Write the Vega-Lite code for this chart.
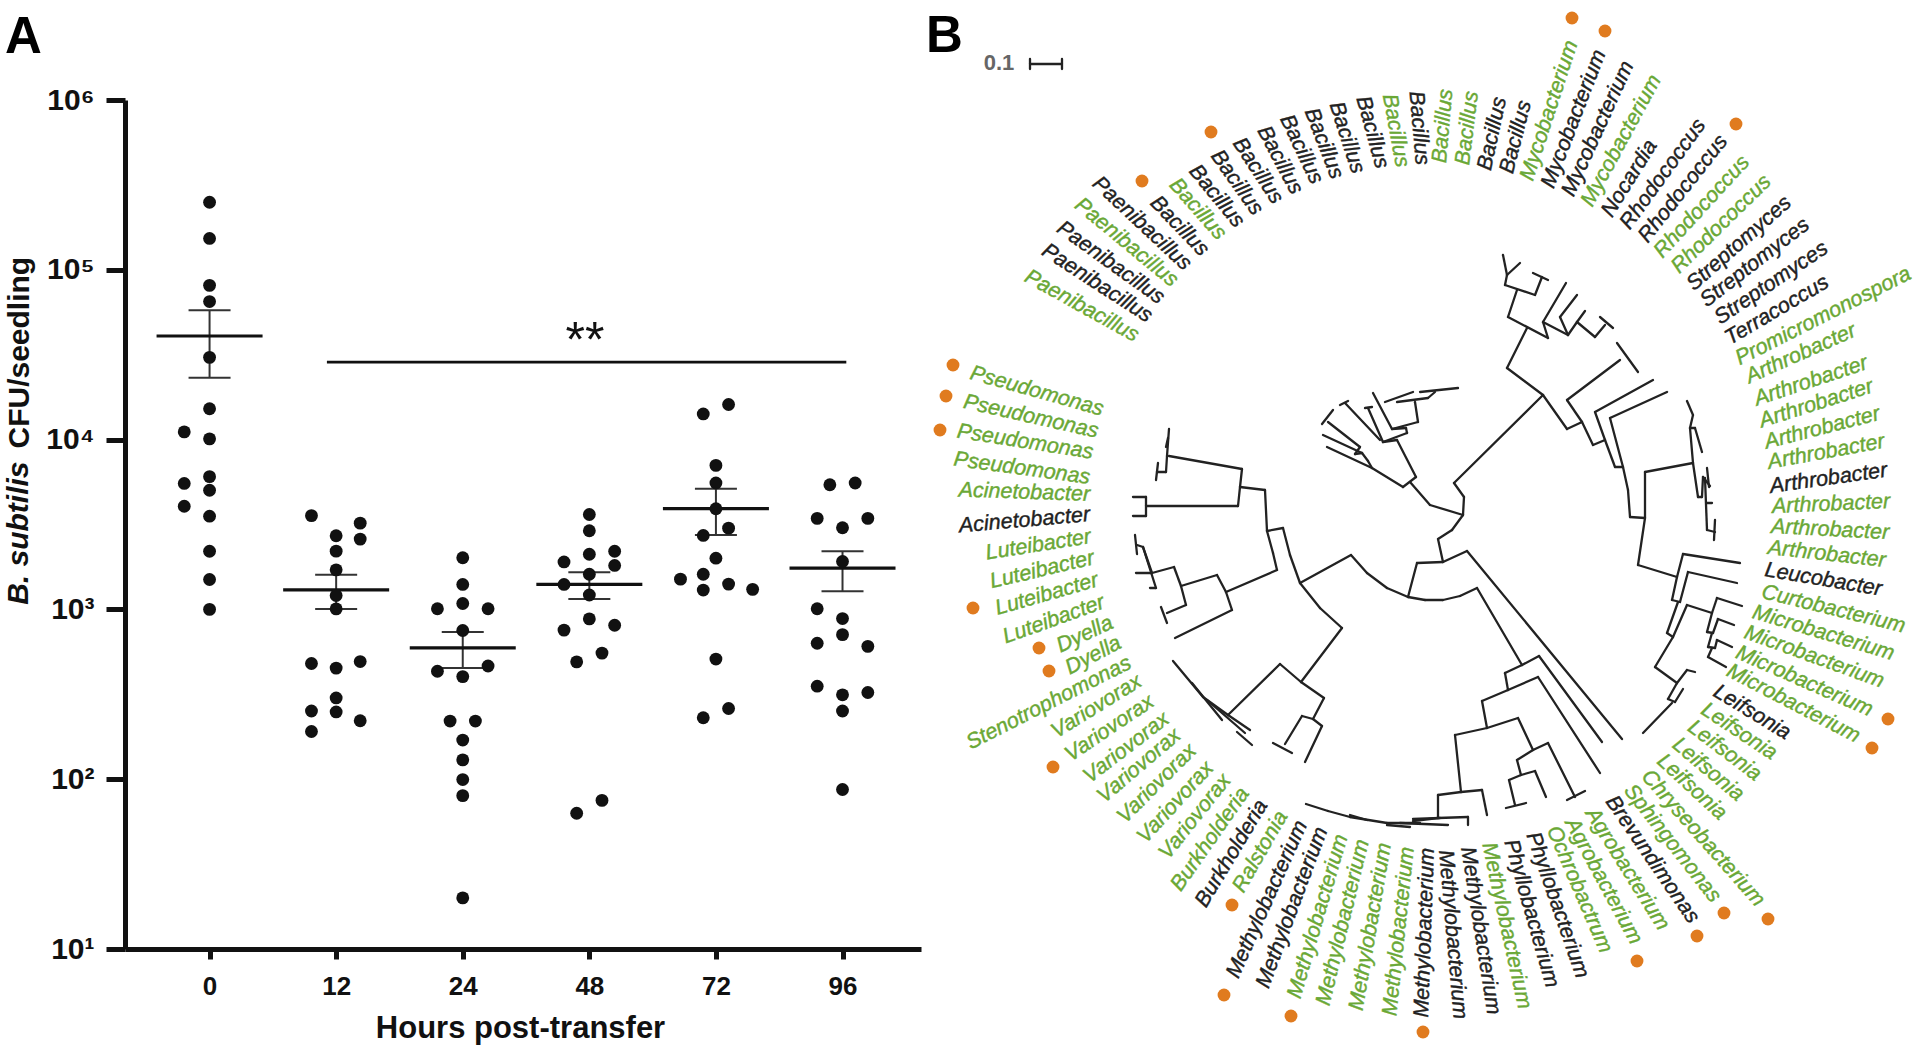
{"$schema":"https://vega.github.io/schema/vega-lite/v6.json","width":1920,"height":1051,"padding":0,"autosize":{"type":"none"},"background":"white","config":{"view":{"stroke":null},"font":"Liberation Sans"},
"datasets":{
"points":[{"pos":0,"cfu":250000},{"pos":0,"cfu":153000},{"pos":0,"cfu":81000},{"pos":0,"cfu":65000},{"pos":0,"cfu":30500},{"pos":0,"cfu":15200},{"pos":0,"cfu":10100},{"pos":-0.2,"cfu":11100},{"pos":0,"cfu":6050},{"pos":-0.2,"cfu":5520},{"pos":0,"cfu":5030},{"pos":-0.2,"cfu":4050},{"pos":0,"cfu":3540},{"pos":0,"cfu":2200},{"pos":0,"cfu":1500},{"pos":0,"cfu":1000},
{"pos":0.805,"cfu":3565},{"pos":1.19,"cfu":3220},{"pos":1.19,"cfu":2594},{"pos":1,"cfu":2716},{"pos":1,"cfu":2203},{"pos":1,"cfu":1710},{"pos":1,"cfu":1208},{"pos":1,"cfu":1007},{"pos":1.19,"cfu":493},{"pos":0.805,"cfu":480},{"pos":1,"cfu":451},{"pos":1,"cfu":301},{"pos":0.805,"cfu":252},{"pos":1,"cfu":249},{"pos":1.19,"cfu":221},{"pos":0.805,"cfu":191},
{"pos":2,"cfu":2015},{"pos":2,"cfu":1403},{"pos":2,"cfu":1084},{"pos":1.8,"cfu":1009},{"pos":2.2,"cfu":1009},{"pos":2,"cfu":751},{"pos":1.8,"cfu":432},{"pos":2.2,"cfu":464},{"pos":2,"cfu":402},{"pos":1.9,"cfu":220},{"pos":2.1,"cfu":220},{"pos":2,"cfu":170},{"pos":2,"cfu":130},{"pos":2,"cfu":99.5},{"pos":2,"cfu":80},{"pos":2,"cfu":20},
{"pos":3,"cfu":3620},{"pos":3,"cfu":2906},{"pos":3.2,"cfu":2200},{"pos":3,"cfu":2113},{"pos":2.8,"cfu":1903},{"pos":3.2,"cfu":1815},{"pos":3,"cfu":1611},{"pos":2.8,"cfu":1403},{"pos":3,"cfu":1216},{"pos":3,"cfu":879},{"pos":3.2,"cfu":807},{"pos":2.8,"cfu":755},{"pos":3.1,"cfu":553},{"pos":2.9,"cfu":491},{"pos":3.1,"cfu":75},{"pos":2.9,"cfu":63},
{"pos":4.1,"cfu":16100},{"pos":3.9,"cfu":14160},{"pos":4,"cfu":7050},{"pos":4,"cfu":5550},{"pos":4,"cfu":3917},{"pos":4.1,"cfu":3010},{"pos":3.9,"cfu":2727},{"pos":4,"cfu":2003},{"pos":3.9,"cfu":1611},{"pos":3.72,"cfu":1507},{"pos":4.1,"cfu":1409},{"pos":3.9,"cfu":1300},{"pos":4.29,"cfu":1312},{"pos":4,"cfu":510},{"pos":4.1,"cfu":261},{"pos":3.9,"cfu":230},
{"pos":4.9,"cfu":5420},{"pos":5.1,"cfu":5550},{"pos":4.8,"cfu":3436},{"pos":5.2,"cfu":3436},{"pos":5,"cfu":3027},{"pos":5,"cfu":1914},{"pos":4.8,"cfu":1009},{"pos":5,"cfu":883},{"pos":5,"cfu":710},{"pos":4.8,"cfu":632},{"pos":5.2,"cfu":606},{"pos":4.8,"cfu":353},{"pos":5.2,"cfu":324},{"pos":5,"cfu":314},{"pos":5,"cfu":252},{"pos":5,"cfu":87}],
"means":[{"pos":0,"cfu":40740},{"pos":1,"cfu":1303},{"pos":2,"cfu":594},{"pos":3,"cfu":1403},{"pos":4,"cfu":3917},{"pos":5,"cfu":1750}],
"errors":[{"pos":0,"cfu":57700,"cfu2":23170},{"pos":1,"cfu":1600,"cfu2":1007},{"pos":2,"cfu":736,"cfu2":451},{"pos":3,"cfu":1655,"cfu2":1153},{"pos":4,"cfu":5140,"cfu2":2742},{"pos":5,"cfu":2203,"cfu2":1279}],
"caps":[{"pos":0,"cfu":57700},{"pos":0,"cfu":23170},{"pos":1,"cfu":1600},{"pos":1,"cfu":1007},{"pos":2,"cfu":736},{"pos":2,"cfu":451},{"pos":3,"cfu":1655},{"pos":3,"cfu":1153},{"pos":4,"cfu":5140},{"pos":4,"cfu":2742},{"pos":5,"cfu":2203},{"pos":5,"cfu":1279}],
"tree":[{"tx":-47,"ty":-13,"tx2":-34,"ty2":-23},{"tx":-34,"ty":-23,"tx2":-53,"ty2":-60},{"tx":-53,"ty":-60,"tx2":-67,"ty2":-58},{"tx":-67,"ty":-58,"tx2":-43,"ty2":-67},{"tx":-43,"ty":-67,"tx2":-44,"ty2":-72},{"tx":-44,"ty":-72,"tx2":-58,"ty2":-71},{"tx":-58,"ty":-71,"tx2":-32,"ty2":-78},{"tx":-58,"ty":-71,"tx2":-77,"ty2":-107},{"tx":-32,"ty":-78,"tx2":-35,"ty2":-98},{"tx":-65,"ty":-98,"tx2":-37,"ty2":-108},{"tx":-53,"ty":-98,"tx2":-22,"ty2":-102},{"tx":-30,"ty":-108,"tx2":8,"ty2":-112},{"tx":-22,"ty":-102,"tx2":-15,"ty2":-108},{"tx":-67,"ty":-58,"tx2":-82,"ty2":-92},{"tx":-85,"ty":-92,"tx2":-78,"ty2":-93},{"tx":-70,"ty":-60,"tx2":-105,"ty2":-97},{"tx":-110,"ty":-95,"tx2":-102,"ty2":-99},{"tx":-47,"ty":-13,"tx2":-78,"ty2":-32},{"tx":-78,"ty":-32,"tx2":-123,"ty2":-53},{"tx":-78,"ty":-32,"tx2":-82,"ty2":-39},{"tx":-82,"ty":-39,"tx2":-88,"ty2":-47},{"tx":-88,"ty":-47,"tx2":-127,"ty2":-65},{"tx":-95,"ty":-46,"tx2":-88,"ty2":-47},{"tx":-95,"ty":-46,"tx2":-90,"ty2":-53},{"tx":-90,"ty":-53,"tx2":-122,"ty2":-78},{"tx":-128,"ty":-76,"tx2":-117,"ty2":-90},
{"tx":53,"ty":-245,"tx2":57,"ty2":-225},{"tx":57,"ty":-225,"tx2":70,"ty2":-237},{"tx":57,"ty":-225,"tx2":55,"ty2":-215},{"tx":55,"ty":-215,"tx2":85,"ty2":-205},{"tx":85,"ty":-205,"tx2":92,"ty2":-223},{"tx":83,"ty":-227,"tx2":98,"ty2":-220},{"tx":67,"ty":-210,"tx2":58,"ty2":-183},{"tx":58,"ty":-183,"tx2":98,"ty2":-162},{"tx":93,"ty":-178,"tx2":116,"ty2":-217},{"tx":93,"ty":-178,"tx2":98,"ty2":-162},{"tx":93,"ty":-178,"tx2":118,"ty2":-165},{"tx":118,"ty":-165,"tx2":110,"ty2":-183},{"tx":110,"ty":-183,"tx2":127,"ty2":-205},{"tx":118,"ty":-165,"tx2":127,"ty2":-178},{"tx":127,"ty":-178,"tx2":135,"ty2":-189},{"tx":127,"ty":-178,"tx2":145,"ty2":-163},{"tx":145,"ty":-163,"tx2":155,"ty2":-175},{"tx":150,"ty":-183,"tx2":163,"ty2":-172},{"tx":77,"ty":-172,"tx2":57,"ty2":-132},{"tx":57,"ty":-132,"tx2":93,"ty2":-105},{"tx":4,"ty":-17,"tx2":93,"ty2":-105},{"tx":93,"ty":-105,"tx2":117,"ty2":-71},{"tx":117,"ty":-71,"tx2":132,"ty2":-78},{"tx":132,"ty":-78,"tx2":117,"ty2":-100},{"tx":117,"ty":-100,"tx2":170,"ty2":-140},{"tx":167,"ty":-157,"tx2":188,"ty2":-128},{"tx":132,"ty":-78,"tx2":143,"ty2":-55},{"tx":143,"ty":-55,"tx2":155,"ty2":-60},{"tx":155,"ty":-60,"tx2":145,"ty2":-88},{"tx":145,"ty":-88,"tx2":203,"ty2":-120},{"tx":155,"ty":-60,"tx2":165,"ty2":-33},{"tx":165,"ty":-33,"tx2":173,"ty2":-33},{"tx":173,"ty":-33,"tx2":160,"ty2":-82},{"tx":160,"ty":-82,"tx2":217,"ty2":-108},{"tx":173,"ty":-33,"tx2":178,"ty2":-10},{"tx":178,"ty":-10,"tx2":180,"ty2":17},{"tx":180,"ty":17,"tx2":195,"ty2":18},{"tx":195,"ty":18,"tx2":195,"ty2":-28},{"tx":195,"ty":-28,"tx2":243,"ty2":-37},{"tx":243,"ty":-37,"tx2":240,"ty2":-72},{"tx":240,"ty":-72,"tx2":245,"ty2":-72},{"tx":245,"ty":-72,"tx2":252,"ty2":-48},{"tx":240,"ty":-72,"tx2":243,"ty2":-85},{"tx":243,"ty":-85,"tx2":237,"ty2":-99},{"tx":243,"ty":-37,"tx2":248,"ty2":-3},{"tx":248,"ty":-3,"tx2":252,"ty2":-3},{"tx":252,"ty":-3,"tx2":253,"ty2":-23},{"tx":253,"ty":-23,"tx2":260,"ty2":-14},{"tx":257,"ty":-32,"tx2":259,"ty2":-13},{"tx":255,"ty":-22,"tx2":257,"ty2":30},{"tx":257,"ty":3,"tx2":262,"ty2":3},{"tx":257,"ty":30,"tx2":265,"ty2":32},{"tx":265,"ty":20,"tx2":264,"ty2":40},{"tx":195,"ty":18,"tx2":188,"ty2":65},{"tx":188,"ty":65,"tx2":227,"ty2":77},{"tx":227,"ty":77,"tx2":233,"ty2":54},{"tx":233,"ty":54,"tx2":290,"ty2":63},{"tx":227,"ty":77,"tx2":222,"ty2":100},{"tx":222,"ty":100,"tx2":230,"ty2":102},{"tx":230,"ty":102,"tx2":238,"ty2":72},{"tx":238,"ty":72,"tx2":287,"ty2":83},{"tx":228,"ty":102,"tx2":217,"ty2":133},{"tx":217,"ty":133,"tx2":223,"ty2":137},{"tx":223,"ty":137,"tx2":237,"ty2":105},{"tx":237,"ty":105,"tx2":262,"ty2":113},{"tx":262,"ty":113,"tx2":267,"ty2":98},{"tx":267,"ty":98,"tx2":292,"ty2":106},{"tx":262,"ty":113,"tx2":257,"ty2":132},{"tx":257,"ty":132,"tx2":263,"ty2":133},{"tx":263,"ty":133,"tx2":268,"ty2":119},{"tx":268,"ty":119,"tx2":284,"ty2":125},{"tx":262,"ty":133,"tx2":258,"ty2":147},{"tx":258,"ty":147,"tx2":265,"ty2":148},{"tx":265,"ty":148,"tx2":267,"ty2":140},{"tx":267,"ty":140,"tx2":282,"ty2":147},{"tx":262,"ty":148,"tx2":258,"ty2":157},{"tx":258,"ty":157,"tx2":276,"ty2":167},{"tx":223,"ty":137,"tx2":205,"ty2":167},{"tx":205,"ty":167,"tx2":227,"ty2":183},{"tx":227,"ty":183,"tx2":237,"ty2":170},{"tx":237,"ty":170,"tx2":245,"ty2":172},{"tx":227,"ty":183,"tx2":218,"ty2":199},{"tx":218,"ty":199,"tx2":225,"ty2":202},{"tx":225,"ty":202,"tx2":233,"ty2":189},{"tx":222,"ty":203,"tx2":193,"ty2":233},
{"tx":-7,"ty":62,"tx2":17,"ty2":51},{"tx":17,"ty":51,"tx2":172,"ty2":239},{"tx":27,"ty":88,"tx2":72,"ty2":165},{"tx":-42,"ty":97,"tx2":-25,"ty2":100},{"tx":-25,"ty":100,"tx2":-7,"ty2":100},{"tx":-7,"ty":100,"tx2":10,"ty2":96},{"tx":10,"ty":96,"tx2":27,"ty2":88},{"tx":-7,"ty":62,"tx2":-12,"ty2":39},{"tx":-12,"ty":39,"tx2":2,"ty2":30},{"tx":2,"ty":30,"tx2":13,"ty2":15},{"tx":13,"ty":15,"tx2":14,"ty2":-3},{"tx":14,"ty":-3,"tx2":4,"ty2":-17},{"tx":13,"ty":15,"tx2":-20,"ty2":5},{"tx":-20,"ty":5,"tx2":-40,"ty2":-18},{"tx":-7,"ty":62,"tx2":-33,"ty2":63},{"tx":-33,"ty":63,"tx2":-42,"ty2":97},{"tx":72,"ty":165,"tx2":55,"ty2":173},{"tx":55,"ty":173,"tx2":58,"ty2":190},{"tx":58,"ty":190,"tx2":88,"ty2":177},{"tx":88,"ty":177,"tx2":150,"ty2":273},{"tx":72,"ty":165,"tx2":89,"ty2":156},{"tx":89,"ty":156,"tx2":152,"ty2":242},{"tx":58,"ty":190,"tx2":32,"ty2":201},{"tx":32,"ty":201,"tx2":37,"ty2":228},{"tx":37,"ty":228,"tx2":68,"ty2":218},{"tx":68,"ty":218,"tx2":83,"ty2":250},{"tx":37,"ty":228,"tx2":5,"ty2":235},{"tx":5,"ty":235,"tx2":11,"ty2":292},{"tx":11,"ty":292,"tx2":-12,"ty2":295},{"tx":-12,"ty":295,"tx2":-12,"ty2":318},{"tx":11,"ty":292,"tx2":32,"ty2":290},{"tx":32,"ty":290,"tx2":37,"ty2":315},{"tx":83,"ty":250,"tx2":67,"ty2":260},{"tx":67,"ty":260,"tx2":71,"ty2":275},{"tx":71,"ty":275,"tx2":85,"ty2":271},{"tx":85,"ty":271,"tx2":96,"ty2":297},{"tx":71,"ty":275,"tx2":59,"ty2":280},{"tx":59,"ty":280,"tx2":65,"ty2":305},{"tx":56,"ty":308,"tx2":76,"ty2":303},{"tx":83,"ty":250,"tx2":98,"ty2":243},{"tx":98,"ty":243,"tx2":125,"ty2":297},{"tx":117,"ty":300,"tx2":135,"ty2":291},
{"tx":-12,"ty":318,"tx2":-37,"ty2":321},{"tx":-50,"ty":323,"tx2":-2,"ty2":325},{"tx":-12,"ty":318,"tx2":18,"ty2":317},{"tx":18,"ty":317,"tx2":18,"ty2":325},{"tx":-144,"ty":304,"tx2":-122,"ty2":311},{"tx":-122,"ty":311,"tx2":-100,"ty2":317},{"tx":-100,"ty":317,"tx2":-63,"ty2":323},{"tx":-63,"ty":323,"tx2":-30,"ty2":323},{"tx":-100,"ty":315,"tx2":-83,"ty2":320},{"tx":-63,"ty":325,"tx2":-40,"ty2":327},{"tx":-37,"ty":319,"tx2":-10,"ty2":318},
{"tx":-99,"ty":55,"tx2":-83,"ty2":73},{"tx":-83,"ty":73,"tx2":-63,"ty2":88},{"tx":-63,"ty":88,"tx2":-42,"ty2":97},{"tx":-99,"ty":55,"tx2":-150,"ty2":83},{"tx":-150,"ty":83,"tx2":-130,"ty2":108},{"tx":-130,"ty":108,"tx2":-108,"ty2":128},{"tx":-108,"ty":128,"tx2":-149,"ty2":182},{"tx":-149,"ty":182,"tx2":-170,"ty2":164},{"tx":-170,"ty":164,"tx2":-222,"ty2":215},{"tx":-149,"ty":182,"tx2":-126,"ty2":198},{"tx":-126,"ty":198,"tx2":-137,"ty2":219},{"tx":-137,"ty":219,"tx2":-148,"ty2":216},{"tx":-148,"ty":216,"tx2":-165,"ty2":244},{"tx":-177,"ty":243,"tx2":-158,"ty2":253},{"tx":-137,"ty":219,"tx2":-128,"ty2":226},{"tx":-128,"ty":226,"tx2":-145,"ty2":262},{"tx":-277,"ty":161,"tx2":-247,"ty2":197},{"tx":-247,"ty":197,"tx2":-222,"ty2":215},{"tx":-222,"ty":215,"tx2":-200,"ty2":230},{"tx":-258,"ty":183,"tx2":-228,"ty2":220},{"tx":-243,"ty":200,"tx2":-205,"ty2":233},{"tx":-213,"ty":232,"tx2":-198,"ty2":245},{"tx":-150,"ty":83,"tx2":-160,"ty2":55},{"tx":-160,"ty":55,"tx2":-167,"ty2":28},{"tx":-167,"ty":28,"tx2":-183,"ty2":31},{"tx":-183,"ty":31,"tx2":-185,"ty2":-10},{"tx":-185,"ty":-10,"tx2":-210,"ty2":-13},{"tx":-210,"ty":-13,"tx2":-208,"ty2":-31},{"tx":-208,"ty":-31,"tx2":-281,"ty2":-44},{"tx":-210,"ty":-13,"tx2":-212,"ty2":6},{"tx":-212,"ty":6,"tx2":-304,"ty2":6},{"tx":-304,"ty":-3,"tx2":-304,"ty2":16},{"tx":-317,"ty":-3,"tx2":-304,"ty2":-3},{"tx":-317,"ty":16,"tx2":-304,"ty2":16},{"tx":-281,"ty":-71,"tx2":-283,"ty2":-44},{"tx":-283,"ty":-44,"tx2":-284,"ty2":-28},{"tx":-284,"ty":-28,"tx2":-293,"ty2":-28},{"tx":-292,"ty":-37,"tx2":-294,"ty2":-20},{"tx":-282,"ty":-62,"tx2":-284,"ty2":-53},{"tx":-183,"ty":31,"tx2":-177,"ty2":53},{"tx":-177,"ty":53,"tx2":-173,"ty2":70},{"tx":-173,"ty":70,"tx2":-224,"ty2":92},{"tx":-224,"ty":92,"tx2":-233,"ty2":75},{"tx":-233,"ty":75,"tx2":-269,"ty2":86},{"tx":-224,"ty":92,"tx2":-218,"ty2":110},{"tx":-218,"ty":110,"tx2":-275,"ty2":138},{"tx":-269,"ty":86,"tx2":-276,"ty2":67},{"tx":-276,"ty":67,"tx2":-298,"ty2":73},{"tx":-298,"ty":73,"tx2":-314,"ty2":73},{"tx":-269,"ty":86,"tx2":-264,"ty2":105},{"tx":-264,"ty":105,"tx2":-283,"ty2":113},{"tx":-289,"ty":107,"tx2":-283,"ty2":123},{"tx":-298,"ty":73,"tx2":-307,"ty2":47},{"tx":-307,"ty":47,"tx2":-313,"ty2":45},{"tx":-315,"ty":35,"tx2":-313,"ty2":54},{"tx":-307,"ty":47,"tx2":-294,"ty2":88},{"tx":-294,"ty":88,"tx2":-300,"ty2":88},
{"tx":-420,"ty":-436,"tx2":-388,"ty2":-436},{"tx":-420,"ty":-441,"tx2":-420,"ty2":-431},{"tx":-388,"ty":-441,"tx2":-388,"ty2":-431}],
"dots":[{"tx":-239,"ty":-368},{"tx":-308,"ty":-319},{"tx":-497,"ty":-135},{"tx":-504,"ty":-104},{"tx":-510,"ty":-70},{"tx":-477,"ty":108},{"tx":-411,"ty":148},{"tx":-401,"ty":171},{"tx":-397,"ty":267},{"tx":-218,"ty":405},{"tx":-226,"ty":495},{"tx":-159,"ty":516},{"tx":-27,"ty":532},{"tx":187,"ty":461},{"tx":247,"ty":436},{"tx":274,"ty":413},{"tx":318,"ty":419},{"tx":438,"ty":219},{"tx":422,"ty":248},{"tx":122,"ty":-482},{"tx":155,"ty":-469},{"tx":286,"ty":-376}],
"labelsEnd":[{"genus":"Paenibacillus","status":"green","tx":-313,"ty":-163,"angle":29},{"genus":"Paenibacillus","status":"black","tx":-300,"ty":-182,"angle":33},{"genus":"Paenibacillus","status":"black","tx":-288,"ty":-200,"angle":35.7},{"genus":"Paenibacillus","status":"green","tx":-275,"ty":-217,"angle":39.5},{"genus":"Paenibacillus","status":"black","tx":-262,"ty":-233,"angle":43},{"genus":"Bacillus","status":"black","tx":-245,"ty":-247,"angle":46},{"genus":"Bacillus","status":"green","tx":-228,"ty":-263,"angle":48.6},{"genus":"Bacillus","status":"black","tx":-210,"ty":-275,"angle":50.6},{"genus":"Bacillus","status":"black","tx":-192,"ty":-287,"angle":54.6},{"genus":"Bacillus","status":"black","tx":-172,"ty":-298,"angle":56.7},{"genus":"Bacillus","status":"black","tx":-153,"ty":-307,"angle":62},{"genus":"Bacillus","status":"black","tx":-133,"ty":-317,"angle":64.6},{"genus":"Bacillus","status":"black","tx":-113,"ty":-322,"angle":68.7},{"genus":"Bacillus","status":"black","tx":-92,"ty":-327,"angle":72},{"genus":"Bacillus","status":"black","tx":-68,"ty":-332,"angle":74.4},{"genus":"Bacillus","status":"green","tx":-48,"ty":-333,"angle":79.7},{"genus":"Bacillus","status":"black","tx":-28,"ty":-335,"angle":85},
{"genus":"Methylobacterium","status":"black","tx":-22,"ty":348,"angle":-88},{"genus":"Methylobacterium","status":"green","tx":-42,"ty":347,"angle":-84},{"genus":"Methylobacterium","status":"green","tx":-65,"ty":343,"angle":-80.4},{"genus":"Methylobacterium","status":"green","tx":-87,"ty":340,"angle":-76.5},{"genus":"Methylobacterium","status":"green","tx":-108,"ty":335,"angle":-73.7},{"genus":"Methylobacterium","status":"black","tx":-128,"ty":328,"angle":-69.6},{"genus":"Methylobacterium","status":"black","tx":-148,"ty":322,"angle":-65.9},{"genus":"Ralstonia","status":"green","tx":-167,"ty":313,"angle":-60},{"genus":"Burkholderia","status":"black","tx":-187,"ty":302,"angle":-59},{"genus":"Burkholderia","status":"green","tx":-205,"ty":290,"angle":-55},{"genus":"Variovorax","status":"green","tx":-223,"ty":277,"angle":-51.5},{"genus":"Variovorax","status":"green","tx":-240,"ty":265,"angle":-47.6},{"genus":"Variovorax","status":"green","tx":-257,"ty":248,"angle":-45},{"genus":"Variovorax","status":"green","tx":-272,"ty":233,"angle":-40.5},{"genus":"Variovorax","status":"green","tx":-283,"ty":217,"angle":-37.4},{"genus":"Variovorax","status":"green","tx":-298,"ty":200,"angle":-34},{"genus":"Variovorax","status":"green","tx":-310,"ty":180,"angle":-31.7},{"genus":"Stenotrophomonas","status":"green","tx":-320,"ty":162,"angle":-27},{"genus":"Dyella","status":"green","tx":-330,"ty":142,"angle":-27.3},{"genus":"Dyella","status":"green","tx":-338,"ty":122,"angle":-25},{"genus":"Luteibacter","status":"green","tx":-346,"ty":102,"angle":-19.7},{"genus":"Luteibacter","status":"green","tx":-352,"ty":80,"angle":-16},{"genus":"Luteibacter","status":"green","tx":-356,"ty":58,"angle":-13.3},{"genus":"Luteibacter","status":"green","tx":-359,"ty":37,"angle":-9},{"genus":"Acinetobacter","status":"black","tx":-360,"ty":15,"angle":-5},{"genus":"Acinetobacter","status":"green","tx":-360,"ty":-5,"angle":2},{"genus":"Pseudomonas","status":"green","tx":-360,"ty":-22,"angle":7.7},{"genus":"Pseudomonas","status":"green","tx":-357,"ty":-47,"angle":9},{"genus":"Pseudomonas","status":"green","tx":-352,"ty":-68,"angle":12.6},{"genus":"Pseudomonas","status":"green","tx":-347,"ty":-90,"angle":15.6}],
"labelsStart":[{"genus":"Bacillus","status":"green","tx":-10,"ty":-337,"angle":-85},{"genus":"Bacillus","status":"green","tx":13,"ty":-335,"angle":-83},{"genus":"Bacillus","status":"black","tx":35,"ty":-330,"angle":-78},{"genus":"Bacillus","status":"black","tx":57,"ty":-327,"angle":-75.7},{"genus":"Mycobacterium","status":"green","tx":77,"ty":-320,"angle":-72},{"genus":"Mycobacterium","status":"black","tx":98,"ty":-313,"angle":-69},{"genus":"Mycobacterium","status":"black","tx":118,"ty":-305,"angle":-65.5},{"genus":"Mycobacterium","status":"green","tx":137,"ty":-295,"angle":-61.7},{"genus":"Nocardia","status":"black","tx":157,"ty":-285,"angle":-58},{"genus":"Rhodococcus","status":"black","tx":175,"ty":-273,"angle":-54},{"genus":"Rhodococcus","status":"black","tx":193,"ty":-260,"angle":-51.7},{"genus":"Rhodococcus","status":"green","tx":208,"ty":-245,"angle":-47.5},{"genus":"Rhodococcus","status":"green","tx":225,"ty":-230,"angle":-44.5},{"genus":"Streptomyces","status":"black","tx":240,"ty":-213,"angle":-41.4},{"genus":"Streptomyces","status":"black","tx":253,"ty":-197,"angle":-37.7},{"genus":"Streptomyces","status":"black","tx":267,"ty":-180,"angle":-34},{"genus":"Terracoccus","status":"black","tx":277,"ty":-160,"angle":-30.5},{"genus":"Promicromonospora","status":"green","tx":287,"ty":-140,"angle":-26.8},{"genus":"Arthrobacter","status":"green","tx":297,"ty":-122,"angle":-24},{"genus":"Arthrobacter","status":"green","tx":305,"ty":-100,"angle":-18.4},{"genus":"Arthrobacter","status":"green","tx":310,"ty":-78,"angle":-17.7},{"genus":"Arthrobacter","status":"green","tx":315,"ty":-57,"angle":-14.4},{"genus":"Arthrobacter","status":"green","tx":318,"ty":-37,"angle":-10.4},{"genus":"Arthrobacter","status":"black","tx":320,"ty":-13,"angle":-8},{"genus":"Arthrobacter","status":"green","tx":322,"ty":7,"angle":-2.4},{"genus":"Arthrobacter","status":"green","tx":321,"ty":27,"angle":3},{"genus":"Arthrobacter","status":"green","tx":318,"ty":48,"angle":6.3},{"genus":"Leucobacter","status":"black","tx":315,"ty":70,"angle":9.6},{"genus":"Curtobacterium","status":"green","tx":312,"ty":92,"angle":13.7},{"genus":"Microbacterium","status":"green","tx":303,"ty":112,"angle":16.8},{"genus":"Microbacterium","status":"green","tx":295,"ty":132,"angle":20},{"genus":"Microbacterium","status":"green","tx":287,"ty":152,"angle":23.7},{"genus":"Microbacterium","status":"green","tx":278,"ty":170,"angle":27.4},{"genus":"Leifsonia","status":"black","tx":265,"ty":190,"angle":31.3},{"genus":"Leifsonia","status":"green","tx":253,"ty":208,"angle":33.4},{"genus":"Leifsonia","status":"green","tx":240,"ty":225,"angle":37},{"genus":"Leifsonia","status":"green","tx":225,"ty":242,"angle":40},{"genus":"Leifsonia","status":"green","tx":210,"ty":258,"angle":42.7},{"genus":"Chryseobacterium","status":"green","tx":195,"ty":273,"angle":48.5},{"genus":"Sphingomonas","status":"green","tx":178,"ty":287,"angle":52},{"genus":"Brevundimonas","status":"black","tx":160,"ty":298,"angle":55.6},{"genus":"Agrobacterium","status":"green","tx":140,"ty":310,"angle":58},{"genus":"Agrobacterium","status":"green","tx":120,"ty":320,"angle":61.6},{"genus":"Ochrobactrum","status":"green","tx":102,"ty":327,"angle":66.6},{"genus":"Phyllobacterium","status":"black","tx":82,"ty":333,"angle":70.8},{"genus":"Phyllobacterium","status":"black","tx":60,"ty":340,"angle":74},{"genus":"Methylobacterium","status":"green","tx":38,"ty":343,"angle":77.6},{"genus":"Methylobacterium","status":"black","tx":17,"ty":347,"angle":81},{"genus":"Methylobacterium","status":"black","tx":-5,"ty":350,"angle":85}]
},
"layer":[
{"encoding":{
"x":{"field":"pos","type":"quantitative","scale":{"domain":[-0.668,5.62],"range":[125,921],"nice":false,"zero":false},
"axis":{"values":[0,1,2,3,4,5],"labelExpr":"[0,12,24,48,72,96][datum.value]","offset":-102,"grid":false,"domainWidth":5,"domainColor":"#111","tickWidth":5,"tickColor":"#111","tickSize":10,"labelFontSize":26,"labelFontWeight":"bold","labelColor":"#111","labelPadding":14,"labelFont":"Liberation Sans","title":"Hours post-transfer","titleFontSize":31,"titleFontWeight":"bold","titleColor":"#111","titleFont":"Liberation Sans","titleX":520,"titleY":79,"titleAlign":"center","titleBaseline":"middle","titleAnchor":null}},
"y":{"field":"cfu","type":"quantitative","scale":{"type":"log","domain":[10,1000000],"range":[949,100],"nice":false},
"axis":{"values":[10,100,1000,10000,100000,1000000],"labelExpr":"'10' + ['⁰','¹','²','³','⁴','⁵','⁶'][round(log(datum.value)/LN10)]","offset":-125,"grid":false,"domainWidth":5,"domainColor":"#111","tickWidth":5,"tickColor":"#111","tickSize":19,"labelFontSize":30,"labelFontWeight":"bold","labelColor":"#111","labelPadding":12,"labelFont":"Liberation Sans","title":"CFU/seedling","titleFontSize":30,"titleFontWeight":"bold","titleColor":"#111","titleFont":"Liberation Sans","titleAngle":270,"titleX":-97,"titleY":448,"titleAlign":"left","titleBaseline":"alphabetic","titleAnchor":null}}},
"layer":[
{"data":{"name":"errors"},"mark":{"type":"rule","color":"#333","strokeWidth":2},"encoding":{"y2":{"field":"cfu2"}}},
{"data":{"name":"caps"},"mark":{"type":"tick","orient":"horizontal","size":42,"thickness":2,"color":"#333","opacity":1}},
{"data":{"name":"means"},"mark":{"type":"tick","orient":"horizontal","size":106,"thickness":3.2,"color":"#111","opacity":1}},
{"data":{"name":"points"},"mark":{"type":"point","shape":"circle","filled":true,"size":165,"color":"#111","opacity":1}},
{"data":{"values":[{"pos":0.927,"cfu":28600,"pos2":5.03}]},"mark":{"type":"rule","color":"#111","strokeWidth":2.8},"encoding":{"x2":{"field":"pos2"}}},
{"data":{"values":[{"pos":2.965,"cfu":37800,"label":"**"}]},"mark":{"type":"text","fontSize":50,"font":"Liberation Sans","align":"center","baseline":"middle","color":"#111"},"encoding":{"text":{"field":"label"}}},
{"data":{"values":[{"pos":-1.616,"cfu":1900000,"label":"A"}]},"mark":{"type":"text","fontSize":51,"font":"Liberation Sans","fontWeight":"bold","align":"left","baseline":"alphabetic","color":"#000"},"encoding":{"text":{"field":"label"}}},
{"data":{"values":[{"pos":-1.434,"cfu":1064,"label":"B. subtilis"}]},"mark":{"type":"text","fontSize":30,"font":"Liberation Sans","fontWeight":"bold","fontStyle":"italic","angle":270,"align":"left","baseline":"alphabetic","color":"#111"},"encoding":{"text":{"field":"label"}}}
]},
{"encoding":{
"x":{"field":"tx","type":"quantitative","axis":null,"scale":{"domain":[-530,470],"range":[920,1920],"nice":false,"zero":false}},
"y":{"field":"ty","type":"quantitative","axis":null,"scale":{"domain":[-500,551],"range":[0,1051],"nice":false,"zero":false}}},
"layer":[
{"data":{"name":"tree"},"mark":{"type":"rule","color":"#222","strokeWidth":2.3,"strokeCap":"round"},"encoding":{"x2":{"field":"tx2"},"y2":{"field":"ty2"}}},
{"data":{"name":"dots"},"mark":{"type":"point","shape":"circle","filled":true,"size":165,"color":"#e07b1f","opacity":1}},
{"data":{"name":"labelsEnd"},"mark":{"type":"text","fontSize":21.5,"font":"Liberation Sans","fontStyle":"italic","align":"right","baseline":"middle","strokeWidth":0.4},"encoding":{"text":{"field":"genus"},"angle":{"field":"angle","type":"quantitative","scale":null},"color":{"field":"status","type":"nominal","legend":null,"scale":{"domain":["green","black"],"range":["#6aa836","#222222"]}},"stroke":{"field":"status","type":"nominal","legend":null,"scale":{"domain":["green","black"],"range":["#6aa836","#222222"]}}}},
{"data":{"name":"labelsStart"},"mark":{"type":"text","fontSize":21.5,"font":"Liberation Sans","fontStyle":"italic","align":"left","baseline":"middle","strokeWidth":0.4},"encoding":{"text":{"field":"genus"},"angle":{"field":"angle","type":"quantitative","scale":null},"color":{"field":"status","type":"nominal","legend":null,"scale":{"domain":["green","black"],"range":["#6aa836","#222222"]}},"stroke":{"field":"status","type":"nominal","legend":null,"scale":{"domain":["green","black"],"range":["#6aa836","#222222"]}}}},
{"data":{"values":[{"tx":-451,"ty":-437,"label":"0.1"}]},"mark":{"type":"text","fontSize":22,"font":"Liberation Sans","fontWeight":"bold","align":"center","baseline":"middle","color":"#666"},"encoding":{"text":{"field":"label"}}},
{"data":{"values":[{"tx":-524,"ty":-448,"label":"B"}]},"mark":{"type":"text","fontSize":51,"font":"Liberation Sans","fontWeight":"bold","align":"left","baseline":"alphabetic","color":"#000"},"encoding":{"text":{"field":"label"}}}
]}
],
"resolve":{"scale":{"x":"independent","y":"independent"},"axis":{"x":"independent","y":"independent"}}
}
